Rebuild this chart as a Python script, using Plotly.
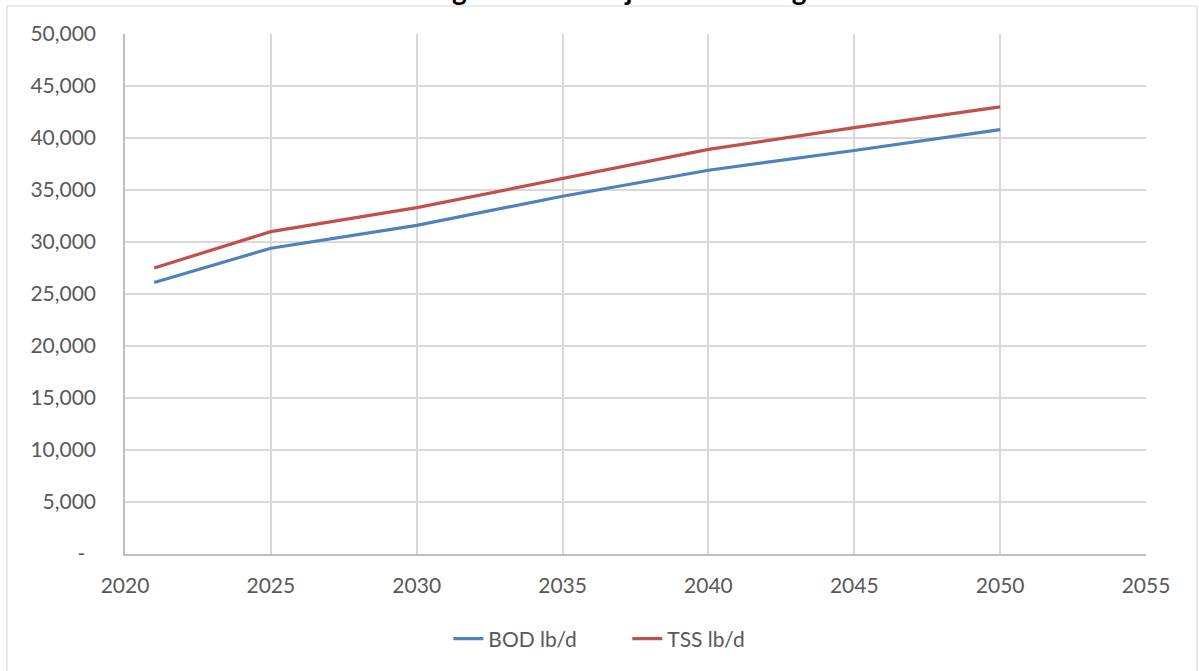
import plotly.graph_objects as go

# Projected loads by design year
years = [2021, 2025, 2030, 2035, 2040, 2045, 2050]
bod_lbd = [26100, 29400, 31600, 34400, 36900, 38800, 40800]
tss_lbd = [27500, 31000, 33300, 36100, 38900, 41000, 43000]

series_names = ["BOD lb/d", "TSS lb/d"]
series_colors = ["#4F81BD", "#C0504D"]

y_tickvals = list(range(0, 50001, 5000))
y_ticktext = ["-\u00a0\u00a0"] + [f"{v:,}" for v in y_tickvals[1:]]
x_tickvals = list(range(2020, 2056, 5))

TEXT = "#595959"
GRID = "#D9D9D9"
AXIS = "#BFBFBF"
FONT = "Lato"

fig = go.Figure()
for name, vals, color in zip(series_names, [bod_lbd, tss_lbd], series_colors):
    fig.add_trace(go.Scatter(
        x=years, y=vals, name=name, mode="lines",
        line=dict(color=color, width=3.2),
    ))

fig.update_layout(
    width=1199, height=671,
    margin=dict(l=125, r=53, t=34, b=117),
    paper_bgcolor="white", plot_bgcolor="white",
    font=dict(family=FONT, size=21, color=TEXT),
    title=dict(
        text="<b>Average Annual Projected Loadings</b>",
        font=dict(family=FONT, size=28, color="black"),
        x=0.5, xanchor="center", xref="container",
        y=1.0, yanchor="bottom", yref="container",
    ),
    showlegend=True,
    legend=dict(
        orientation="h", xanchor="center", x=0.492,
        yanchor="middle", y=-0.1635,
        font=dict(family=FONT, size=21, color=TEXT),
        bgcolor="rgba(0,0,0,0)",
        entrywidth=134, entrywidthmode="pixels",
    ),
    xaxis=dict(
        range=[2020, 2055], tickvals=x_tickvals,
        showgrid=True, gridcolor=GRID, gridwidth=1.5,
        showline=True, linecolor=AXIS, linewidth=1.5, mirror=False,
        ticks="outside", ticklen=12, tickcolor="rgba(0,0,0,0)",
        zeroline=False,
        tickfont=dict(family=FONT, size=21, color=TEXT),
    ),
    yaxis=dict(
        range=[0, 50000], tickvals=y_tickvals, ticktext=y_ticktext,
        showgrid=True, gridcolor=GRID, gridwidth=1.5,
        showline=True, linecolor=AXIS, linewidth=1.5,
        ticks="outside", ticklen=23, tickcolor="rgba(0,0,0,0)",
        zeroline=False,
        tickfont=dict(family=FONT, size=21, color=TEXT),
    ),
    shapes=[dict(
        type="rect", xref="paper", yref="paper",
        x0=-0.1156, x1=1.05, y0=-0.24, y1=1.0538,
        line=dict(color=GRID, width=1.2), fillcolor="rgba(0,0,0,0)",
        layer="below",
    )],
)

fig.write_html("out.html")
